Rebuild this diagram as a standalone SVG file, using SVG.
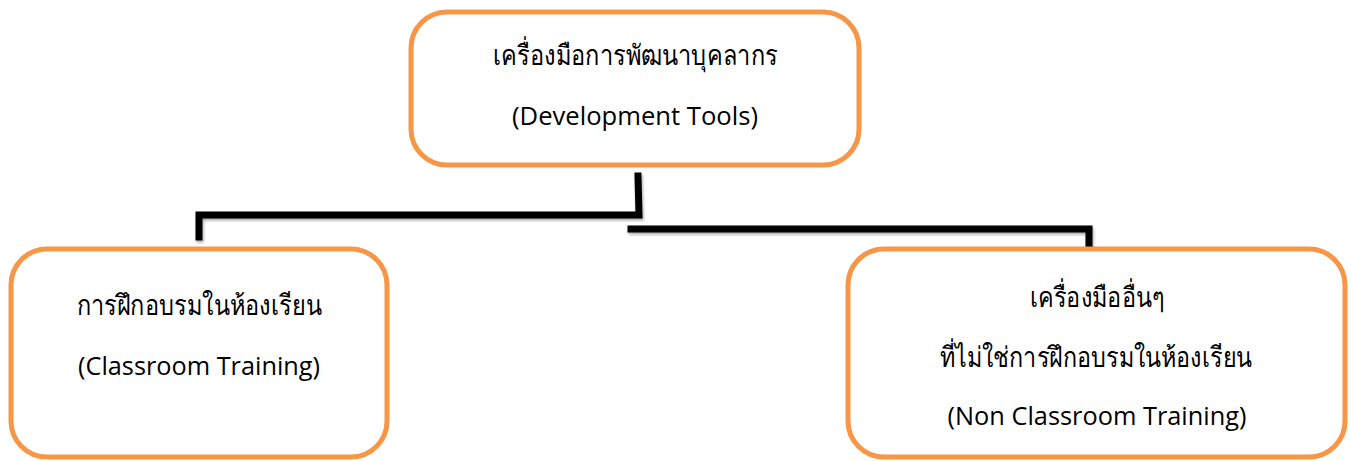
<svg xmlns="http://www.w3.org/2000/svg" width="1351" height="461" viewBox="0 0 1351 461">
<style>
.box{fill:#fff;stroke:#f79646;stroke-width:5}
.t{font-family:"Noto Sans","Open Sans","Noto Sans CJK SC",sans-serif;font-size:28px;font-weight:300;fill:#000;text-anchor:middle}
.e{font-family:"Open Sans","Liberation Sans",sans-serif;font-size:26px;fill:#000;text-anchor:middle}
.c{fill:none;stroke:#000;stroke-width:7;stroke-linecap:square;stroke-linejoin:miter}
</style>
<defs>
<filter id="sh" x="-5%" y="-50%" width="110%" height="200%">
<feGaussianBlur in="SourceAlpha" stdDeviation="1.5"/>
<feOffset dx="1" dy="2" result="b"/>
<feComponentTransfer><feFuncA type="linear" slope="0.35"/></feComponentTransfer>
<feMerge><feMergeNode/><feMergeNode in="SourceGraphic"/></feMerge>
</filter>
</defs>
<g id="connectors" filter="url(#sh)">
<polyline class="c" points="638,176 639,215 199,215 199,237"/>
<polyline class="c" points="631,229 1089,229 1089,249"/>
</g>
<g id="top">
<rect class="box" x="411" y="12" width="448" height="153" rx="36"/>
<text class="t" x="635" y="65" textLength="285" lengthAdjust="spacingAndGlyphs">เครื่องมือการพัฒนาบุคลากร</text>
<text class="e" x="635" y="125" textLength="246" lengthAdjust="spacingAndGlyphs">(Development Tools)</text>
</g>
<g id="left">
<rect class="box" x="11" y="249" width="376" height="208" rx="36"/>
<text class="t" x="199" y="315" textLength="245" lengthAdjust="spacingAndGlyphs">การฝึกอบรมในห้องเรียน</text>
<text class="e" x="199" y="375" textLength="242" lengthAdjust="spacingAndGlyphs">(Classroom Training)</text>
</g>
<g id="right">
<rect class="box" x="848" y="249" width="497" height="208" rx="36"/>
<text class="t" x="1097" y="307" textLength="135" lengthAdjust="spacingAndGlyphs">เครื่องมืออื่นๆ</text>
<text class="t" x="1096" y="367" textLength="312" lengthAdjust="spacingAndGlyphs">ที่ไม่ใช่การฝึกอบรมในห้องเรียน</text>
<text class="e" x="1097" y="425" textLength="299" lengthAdjust="spacingAndGlyphs">(Non Classroom Training)</text>
</g>
</svg>
